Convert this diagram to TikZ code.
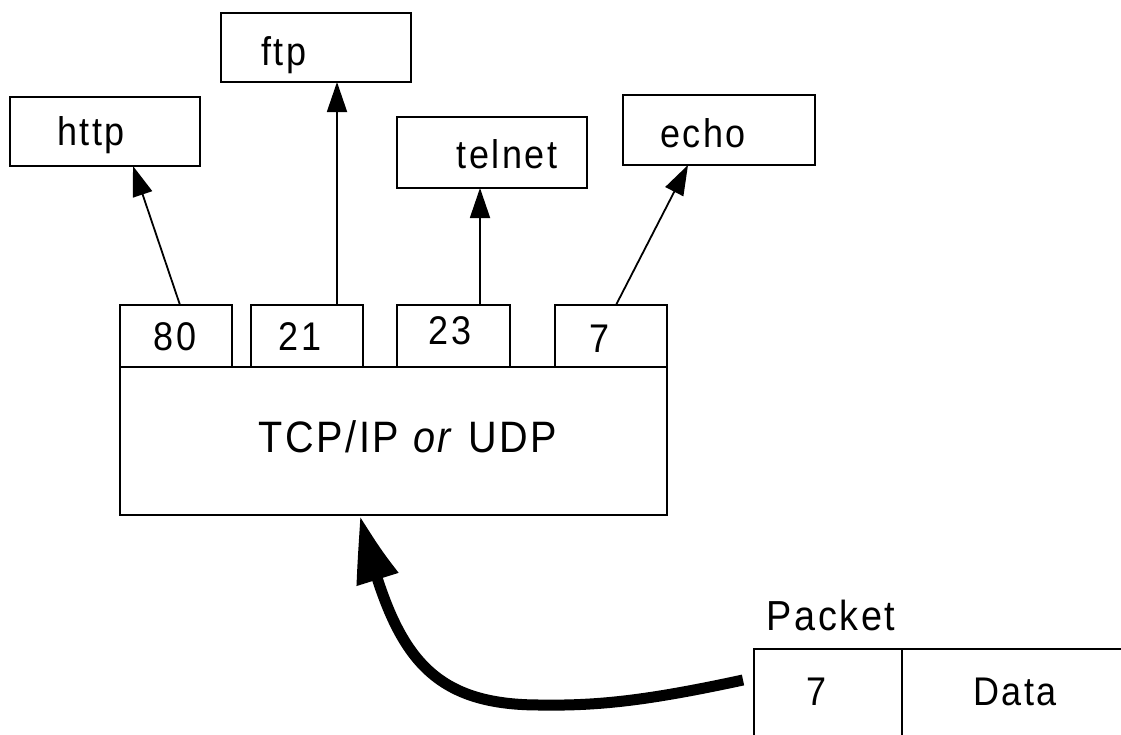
\documentclass[tikz,border=0pt]{standalone}
\usepackage{fontspec}
\setmainfont{Liberation Sans}[FakeStretch=0.9, LetterSpace=6]
\usetikzlibrary{arrows.meta,bending}
\begin{document}
\begin{tikzpicture}[x=1pt,y=-1pt,
  box/.style={draw, line width=2.4pt, inner sep=0pt, outer sep=0pt},
  lbl/.style={inner sep=0pt, outer sep=0pt, anchor=base, font=\fontsize{40}{48}\selectfont},
  portarrow/.style={line width=1.8pt, -{Triangle[length=30pt,width=20pt]}},
  bigarrow/.style={line width=11pt, -{Triangle[length=72pt,width=40pt,bend]}}]
\fill[white] (0,0) rectangle (1121,734);
\useasboundingbox (0,0) rectangle (1121,734);
\clip (0,0) rectangle (1121,734);

% application boxes
\node[box, minimum width=190pt, minimum height=69pt] (http) at (105,131.5) {};
\node[box, minimum width=190pt, minimum height=69pt] (ftp) at (316,47.5) {};
\node[box, minimum width=190pt, minimum height=71pt] (telnet) at (492,152.5) {};
\node[box, minimum width=192pt, minimum height=70pt] (echo) at (719,130) {};
\node[lbl] (http-t) at (91,145) {http};
\node[lbl] (ftp-t) at (284,65) {ftp};
\node[lbl] (telnet-t) at (507,168) {telnet};
\node[lbl] (echo-t) at (703,147) {echo};

% port boxes
\node[box, minimum width=112pt, minimum height=62pt] (p80) at (176,336) {};
\node[box, minimum width=112pt, minimum height=62pt] (p21) at (307,336) {};
\node[box, minimum width=113pt, minimum height=62pt] (p23) at (453.5,336) {};
\node[box, minimum width=112pt, minimum height=62pt] (p7) at (611,336) {};
\node[lbl] (p80-t) at (175,350) {80};
\node[lbl] (p21-t) at (300,350) {21};
\node[lbl] (p23-t) at (450,344) {23};
\node[lbl] (p7-t) at (600,352) {7};

% transport box
\node[box, minimum width=547pt, minimum height=148pt] (main) at (393.5,441) {};
\node[lbl, font=\fontsize{44}{52}\selectfont] (main-t) at (408,452) {TCP/IP \textit{or} UDP};

% packet
\node[lbl, font=\fontsize{42}{50}\selectfont] (packet-t) at (831,630) {Packet};
\node[box, minimum width=148pt, minimum height=96pt] (pk7) at (828,697) {};
\node[box, minimum width=238pt, minimum height=96pt] (pkdata) at (1021,697) {};
\node[lbl] (pk7-t) at (816,705) {7};
\node[lbl] (pkdata-t) at (1015,705) {Data};

% connectors
\draw[portarrow] ([xshift=4pt]p80.north) -- ([xshift=28pt]http.south);
\draw[portarrow] ([xshift=30pt]p21.north) -- ([xshift=21pt]ftp.south);
\draw[portarrow] ([xshift=26.5pt]p23.north) -- ([xshift=-12pt]telnet.south);
\draw[portarrow] ([xshift=5pt]p7.north) -- ([xshift=-31pt]echo.south);

\coordinate (low) at (540,705);
\draw[bigarrow] ([xshift=-11pt,yshift=17pt]pk7.west) .. controls (650,700) and (600,706) .. (low)
  .. controls (425,705) and (392,650) .. ([xshift=-33.5pt]main.south);
\end{tikzpicture}
\end{document}
